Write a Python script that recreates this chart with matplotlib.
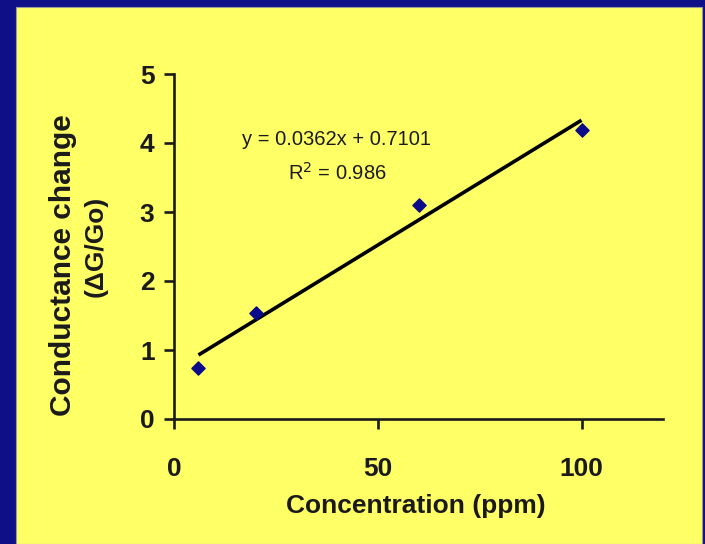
import numpy as np
import matplotlib
matplotlib.use("Agg")
import matplotlib.pyplot as plt
from matplotlib.patches import Rectangle

# sensor response vs. gas concentration
concentration = [6, 20, 60, 100]
conductance_change = [0.74, 1.54, 3.10, 4.19]

# linear fit reported on the chart
slope = 0.0362
intercept = 0.7101
r_squared = 0.986

x_ticks = [0, 50, 100]
y_ticks = [0, 1, 2, 3, 4, 5]

plt.rcParams['font.family'] = ['Liberation Sans', 'DejaVu Sans']

blue = '#0f0f88'
yellow = '#ffff66'
ink = '#1a1a1a'

fig = plt.figure(figsize=(7.05, 5.44), dpi=100)
fig.patch.set_facecolor(blue)
fig.patches.append(Rectangle((16 / 705, 0), 686 / 705, 537 / 544,
                             transform=fig.transFigure, facecolor=yellow,
                             edgecolor='#9a9a9a', linewidth=0.8, zorder=-1))

ax = fig.add_axes([174 / 705, 1 - 419 / 544, 489 / 705, 345 / 544])
ax.set_facecolor('none')
ax.set_zorder(2)

# fitted trend line over the measured range
xfit = np.array([min(concentration), max(concentration)])
ax.plot(xfit, slope * xfit + intercept, color='black', linewidth=2.6,
        solid_capstyle='butt', zorder=2)

ax.scatter(concentration, conductance_change, marker='D', s=45,
           color='#0a0a8a', edgecolors='#0a0a8a', zorder=3)

ax.set_xlim(0, 120)
ax.set_ylim(0, 5)
ax.set_xticks(x_ticks)
ax.set_yticks(y_ticks)

for side in ['top', 'right']:
    ax.spines[side].set_visible(False)
for side in ['left', 'bottom']:
    ax.spines[side].set_linewidth(1.9)
    ax.spines[side].set_color(ink)

ax.tick_params(axis='both', direction='out', length=7, width=1.9,
               color=ink, labelsize=19, labelcolor=ink)
ax.tick_params(axis='x', pad=20)
ax.tick_params(axis='y', pad=7)
for lbl in ax.get_xticklabels() + ax.get_yticklabels():
    lbl.set_fontweight('bold')

ax.text(40, 4.05, f'y = {slope}x + {intercept}', fontsize=14.5,
        color=ink, ha='center', va='center')
ax.text(40, 3.57, f'R$^2$ = {r_squared}', fontsize=14.5,
        color=ink, ha='center', va='center')

fig.text(416 / 705, 1 - 506 / 544, 'Concentration (ppm)', fontsize=19,
         fontweight='bold', color=ink, ha='center', va='center')
fig.text(63 / 705, 1 - 265 / 544, 'Conductance change', fontsize=21.5,
         fontweight='bold', color=ink, ha='center', va='center', rotation=90)
fig.text(96 / 705, 1 - 246 / 544, '(ΔG/Go)', fontsize=19,
         fontweight='bold', color=ink, ha='center', va='center', rotation=90)

fig.savefig('out.png', dpi=100, facecolor=fig.get_facecolor())
